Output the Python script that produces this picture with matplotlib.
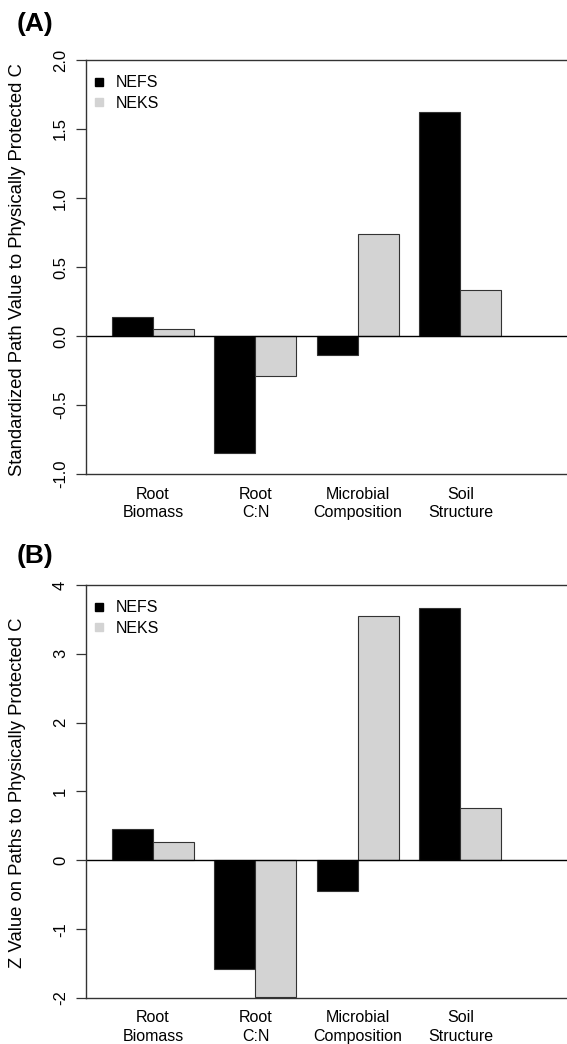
import matplotlib
matplotlib.use("Agg")
import matplotlib.pyplot as plt
from matplotlib.lines import Line2D

plt.rcParams['font.family'] = ['Liberation Sans', 'DejaVu Sans']

categories = ["Root\nBiomass", "Root\nC:N", "Microbial\nComposition", "Soil\nStructure"]
series = ["NEFS", "NEKS"]
colors = ["black", "#d3d3d3"]

path_nefs = [0.14, -0.85, -0.14, 1.62]
path_neks = [0.05, -0.29, 0.74, 0.33]

z_nefs = [0.45, -1.58, -0.45, 3.67]
z_neks = [0.26, -1.99, 3.55, 0.76]

fig = plt.figure(figsize=(5.67, 10.44), dpi=100)
W, H = 567, 1044

def panel(rect, nefs, neks, ylim, yticks, yticklabels, ylabel, tag, tag_y, ylab_y):
    ax = fig.add_axes(rect)
    # R style barplot, beside=TRUE, space=c(0, 0.5)
    for i, (a, b) in enumerate(zip(nefs, neks)):
        x0 = 0.5 + 2.5 * i
        ax.bar(x0, a, width=1, align='edge', color=colors[0], edgecolor='#333333', linewidth=0.8)
        ax.bar(x0 + 1, b, width=1, align='edge', color=colors[1], edgecolor='#333333', linewidth=0.8)
    ax.axhline(0, color='black', lw=1)
    ax.set_xlim(-0.134, 11.6)
    ax.set_ylim(*ylim)
    ax.set_xticks([1.5 + 2.5 * i for i in range(len(categories))])
    ax.set_xticklabels(categories, fontsize=11.5, linespacing=1.3)
    ax.tick_params(axis='x', length=0, pad=9)
    ax.set_yticks(yticks)
    ax.set_yticklabels(yticklabels, rotation=90, va='center', fontsize=12)
    ax.tick_params(axis='y', length=7, width=0.9, pad=6, color='#333333')
    ax.spines['right'].set_visible(False)
    for s in ['left', 'top', 'bottom']:
        ax.spines[s].set_color('#333333')
        ax.spines[s].set_linewidth(1.0)
    handles = [Line2D([], [], marker='s', ls='', color=c, markersize=5.5) for c in colors]
    ax.legend(handles, series, loc='upper left', bbox_to_anchor=(-0.012, 0.99),
              frameon=False, fontsize=11.5, handlelength=1.0, handletextpad=0.55,
              labelspacing=0.35, borderaxespad=0.3)
    fig.text(17.5 / W, 1 - ylab_y / H, ylabel, rotation=90, ha='center', va='center', fontsize=13.3)
    fig.text(17 / W, 1 - tag_y / H, tag, fontsize=19, fontweight='bold', ha='left', va='center')
    return ax

panel([86 / W, 1 - 474 / H, 1 - 86 / W, 414 / H], path_nefs, path_neks,
      (-1.0, 2.0), [-1.0, -0.5, 0.0, 0.5, 1.0, 1.5, 2.0],
      ["-1.0", "-0.5", "0.0", "0.5", "1.0", "1.5", "2.0"],
      "Standardized Path Value to Physically Protected C", "(A)", 24, 270)

panel([86 / W, 1 - 998 / H, 1 - 86 / W, 413 / H], z_nefs, z_neks,
      (-2, 4), [-2, -1, 0, 1, 2, 3, 4],
      ["-2", "-1", "0", "1", "2", "3", "4"],
      "Z Value on Paths to Physically Protected C", "(B)", 556, 793)

fig.savefig("out.png", dpi=100)
